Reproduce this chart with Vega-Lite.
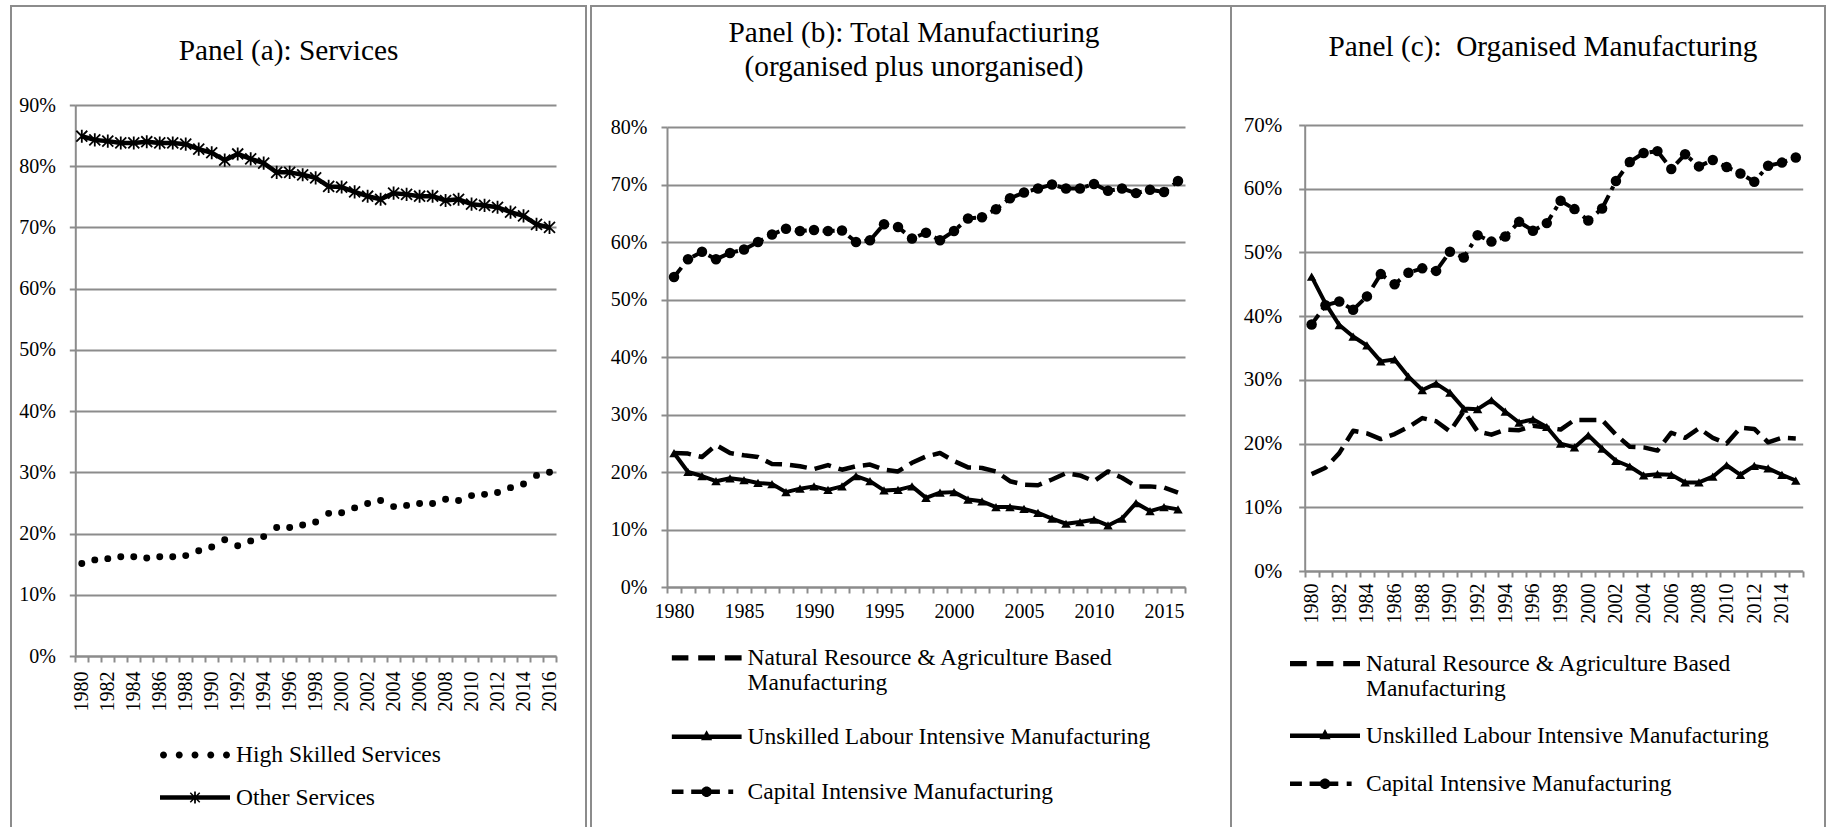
{
  "$schema": "https://vega.github.io/schema/vega-lite/v6.json",
  "padding": {"left": 0, "top": 5, "right": 0, "bottom": 0},
  "background": "white",
  "spacing": 5,
  "bounds": "flush",
  "resolve": {"scale": {"shape": "independent"}, "legend": {"shape": "independent"}},
  "config": {
    "view": {"stroke": "#8c8c8c", "strokeWidth": 2, "fill": "white"},
    "font": "Liberation Serif",
    "axis": {"labelFont": "Liberation Serif", "labelColor": "black", "labelFontSize": 20, "domainColor": "#8c8c8c", "tickColor": "#8c8c8c", "gridColor": "#8c8c8c", "domainWidth": 2, "tickWidth": 2, "gridWidth": 2, "tickSize": 6},
    "legend": {"labelFont": "Liberation Serif", "labelFontSize": 23.5, "labelColor": "black", "symbolSize": 4900, "symbolStrokeWidth": 0, "symbolFillColor": "black", "symbolStrokeColor": "black", "symbolOpacity": 1, "labelLimit": 700, "labelOffset": 6, "padding": 0, "clipHeight": 25.4},
    "title": {"font": "Liberation Serif", "fontSize": 29.3, "fontWeight": "normal", "color": "black", "anchor": "middle", "frame": "group", "baseline": "alphabetic", "lineHeight": 34}
  },
  "datasets": {
    "a": [
      {"year": 1980, "series": "Other Services", "value": 84.9}, {"year": 1981, "series": "Other Services", "value": 84.3}, {"year": 1982, "series": "Other Services", "value": 84.1}, {"year": 1983, "series": "Other Services", "value": 83.8}, {"year": 1984, "series": "Other Services", "value": 83.8}, {"year": 1985, "series": "Other Services", "value": 84.0}, {"year": 1986, "series": "Other Services", "value": 83.8}, {"year": 1987, "series": "Other Services", "value": 83.8}, {"year": 1988, "series": "Other Services", "value": 83.6}, {"year": 1989, "series": "Other Services", "value": 82.8}, {"year": 1990, "series": "Other Services", "value": 82.2}, {"year": 1991, "series": "Other Services", "value": 81.0}, {"year": 1992, "series": "Other Services", "value": 82.0}, {"year": 1993, "series": "Other Services", "value": 81.2}, {"year": 1994, "series": "Other Services", "value": 80.5}, {"year": 1995, "series": "Other Services", "value": 79.0}, {"year": 1996, "series": "Other Services", "value": 79.0}, {"year": 1997, "series": "Other Services", "value": 78.6}, {"year": 1998, "series": "Other Services", "value": 78.1}, {"year": 1999, "series": "Other Services", "value": 76.7}, {"year": 2000, "series": "Other Services", "value": 76.6}, {"year": 2001, "series": "Other Services", "value": 75.8}, {"year": 2002, "series": "Other Services", "value": 75.1}, {"year": 2003, "series": "Other Services", "value": 74.6}, {"year": 2004, "series": "Other Services", "value": 75.6}, {"year": 2005, "series": "Other Services", "value": 75.4}, {"year": 2006, "series": "Other Services", "value": 75.1}, {"year": 2007, "series": "Other Services", "value": 75.1}, {"year": 2008, "series": "Other Services", "value": 74.4}, {"year": 2009, "series": "Other Services", "value": 74.6}, {"year": 2010, "series": "Other Services", "value": 73.8}, {"year": 2011, "series": "Other Services", "value": 73.6}, {"year": 2012, "series": "Other Services", "value": 73.3}, {"year": 2013, "series": "Other Services", "value": 72.5}, {"year": 2014, "series": "Other Services", "value": 71.9}, {"year": 2015, "series": "Other Services", "value": 70.5}, {"year": 2016, "series": "Other Services", "value": 70.0},
      {"year": 1980, "series": "High Skilled Services", "value": 15.1}, {"year": 1981, "series": "High Skilled Services", "value": 15.7}, {"year": 1982, "series": "High Skilled Services", "value": 15.9}, {"year": 1983, "series": "High Skilled Services", "value": 16.2}, {"year": 1984, "series": "High Skilled Services", "value": 16.2}, {"year": 1985, "series": "High Skilled Services", "value": 16.0}, {"year": 1986, "series": "High Skilled Services", "value": 16.2}, {"year": 1987, "series": "High Skilled Services", "value": 16.2}, {"year": 1988, "series": "High Skilled Services", "value": 16.4}, {"year": 1989, "series": "High Skilled Services", "value": 17.2}, {"year": 1990, "series": "High Skilled Services", "value": 17.8}, {"year": 1991, "series": "High Skilled Services", "value": 19.0}, {"year": 1992, "series": "High Skilled Services", "value": 18.0}, {"year": 1993, "series": "High Skilled Services", "value": 18.8}, {"year": 1994, "series": "High Skilled Services", "value": 19.5}, {"year": 1995, "series": "High Skilled Services", "value": 21.0}, {"year": 1996, "series": "High Skilled Services", "value": 21.0}, {"year": 1997, "series": "High Skilled Services", "value": 21.4}, {"year": 1998, "series": "High Skilled Services", "value": 21.9}, {"year": 1999, "series": "High Skilled Services", "value": 23.3}, {"year": 2000, "series": "High Skilled Services", "value": 23.4}, {"year": 2001, "series": "High Skilled Services", "value": 24.2}, {"year": 2002, "series": "High Skilled Services", "value": 24.9}, {"year": 2003, "series": "High Skilled Services", "value": 25.4}, {"year": 2004, "series": "High Skilled Services", "value": 24.4}, {"year": 2005, "series": "High Skilled Services", "value": 24.6}, {"year": 2006, "series": "High Skilled Services", "value": 24.9}, {"year": 2007, "series": "High Skilled Services", "value": 24.9}, {"year": 2008, "series": "High Skilled Services", "value": 25.6}, {"year": 2009, "series": "High Skilled Services", "value": 25.4}, {"year": 2010, "series": "High Skilled Services", "value": 26.2}, {"year": 2011, "series": "High Skilled Services", "value": 26.4}, {"year": 2012, "series": "High Skilled Services", "value": 26.7}, {"year": 2013, "series": "High Skilled Services", "value": 27.5}, {"year": 2014, "series": "High Skilled Services", "value": 28.1}, {"year": 2015, "series": "High Skilled Services", "value": 29.5}, {"year": 2016, "series": "High Skilled Services", "value": 30.0}
    ],
    "b": [
      {"year": 1980, "series": "Capital Intensive Manufacturing", "value": 53.9}, {"year": 1981, "series": "Capital Intensive Manufacturing", "value": 57.0}, {"year": 1982, "series": "Capital Intensive Manufacturing", "value": 58.3}, {"year": 1983, "series": "Capital Intensive Manufacturing", "value": 57.0}, {"year": 1984, "series": "Capital Intensive Manufacturing", "value": 58.1}, {"year": 1985, "series": "Capital Intensive Manufacturing", "value": 58.7}, {"year": 1986, "series": "Capital Intensive Manufacturing", "value": 60.0}, {"year": 1987, "series": "Capital Intensive Manufacturing", "value": 61.3}, {"year": 1988, "series": "Capital Intensive Manufacturing", "value": 62.3}, {"year": 1989, "series": "Capital Intensive Manufacturing", "value": 61.9}, {"year": 1990, "series": "Capital Intensive Manufacturing", "value": 62.1}, {"year": 1991, "series": "Capital Intensive Manufacturing", "value": 61.9}, {"year": 1992, "series": "Capital Intensive Manufacturing", "value": 62.0}, {"year": 1993, "series": "Capital Intensive Manufacturing", "value": 60.0}, {"year": 1994, "series": "Capital Intensive Manufacturing", "value": 60.3}, {"year": 1995, "series": "Capital Intensive Manufacturing", "value": 63.1}, {"year": 1996, "series": "Capital Intensive Manufacturing", "value": 62.6}, {"year": 1997, "series": "Capital Intensive Manufacturing", "value": 60.6}, {"year": 1998, "series": "Capital Intensive Manufacturing", "value": 61.6}, {"year": 1999, "series": "Capital Intensive Manufacturing", "value": 60.3}, {"year": 2000, "series": "Capital Intensive Manufacturing", "value": 61.9}, {"year": 2001, "series": "Capital Intensive Manufacturing", "value": 64.1}, {"year": 2002, "series": "Capital Intensive Manufacturing", "value": 64.3}, {"year": 2003, "series": "Capital Intensive Manufacturing", "value": 65.7}, {"year": 2004, "series": "Capital Intensive Manufacturing", "value": 67.6}, {"year": 2005, "series": "Capital Intensive Manufacturing", "value": 68.6}, {"year": 2006, "series": "Capital Intensive Manufacturing", "value": 69.3}, {"year": 2007, "series": "Capital Intensive Manufacturing", "value": 70.0}, {"year": 2008, "series": "Capital Intensive Manufacturing", "value": 69.3}, {"year": 2009, "series": "Capital Intensive Manufacturing", "value": 69.3}, {"year": 2010, "series": "Capital Intensive Manufacturing", "value": 70.1}, {"year": 2011, "series": "Capital Intensive Manufacturing", "value": 68.9}, {"year": 2012, "series": "Capital Intensive Manufacturing", "value": 69.3}, {"year": 2013, "series": "Capital Intensive Manufacturing", "value": 68.5}, {"year": 2014, "series": "Capital Intensive Manufacturing", "value": 69.1}, {"year": 2015, "series": "Capital Intensive Manufacturing", "value": 68.7}, {"year": 2016, "series": "Capital Intensive Manufacturing", "value": 70.6},
      {"year": 1980, "series": "Unskilled Labour Intensive Manufacturing", "value": 23.3}, {"year": 1981, "series": "Unskilled Labour Intensive Manufacturing", "value": 20.0}, {"year": 1982, "series": "Unskilled Labour Intensive Manufacturing", "value": 19.3}, {"year": 1983, "series": "Unskilled Labour Intensive Manufacturing", "value": 18.4}, {"year": 1984, "series": "Unskilled Labour Intensive Manufacturing", "value": 18.9}, {"year": 1985, "series": "Unskilled Labour Intensive Manufacturing", "value": 18.6}, {"year": 1986, "series": "Unskilled Labour Intensive Manufacturing", "value": 18.1}, {"year": 1987, "series": "Unskilled Labour Intensive Manufacturing", "value": 17.9}, {"year": 1988, "series": "Unskilled Labour Intensive Manufacturing", "value": 16.5}, {"year": 1989, "series": "Unskilled Labour Intensive Manufacturing", "value": 17.1}, {"year": 1990, "series": "Unskilled Labour Intensive Manufacturing", "value": 17.5}, {"year": 1991, "series": "Unskilled Labour Intensive Manufacturing", "value": 16.9}, {"year": 1992, "series": "Unskilled Labour Intensive Manufacturing", "value": 17.5}, {"year": 1993, "series": "Unskilled Labour Intensive Manufacturing", "value": 19.3}, {"year": 1994, "series": "Unskilled Labour Intensive Manufacturing", "value": 18.4}, {"year": 1995, "series": "Unskilled Labour Intensive Manufacturing", "value": 16.8}, {"year": 1996, "series": "Unskilled Labour Intensive Manufacturing", "value": 16.9}, {"year": 1997, "series": "Unskilled Labour Intensive Manufacturing", "value": 17.5}, {"year": 1998, "series": "Unskilled Labour Intensive Manufacturing", "value": 15.5}, {"year": 1999, "series": "Unskilled Labour Intensive Manufacturing", "value": 16.4}, {"year": 2000, "series": "Unskilled Labour Intensive Manufacturing", "value": 16.5}, {"year": 2001, "series": "Unskilled Labour Intensive Manufacturing", "value": 15.2}, {"year": 2002, "series": "Unskilled Labour Intensive Manufacturing", "value": 14.9}, {"year": 2003, "series": "Unskilled Labour Intensive Manufacturing", "value": 13.9}, {"year": 2004, "series": "Unskilled Labour Intensive Manufacturing", "value": 13.9}, {"year": 2005, "series": "Unskilled Labour Intensive Manufacturing", "value": 13.6}, {"year": 2006, "series": "Unskilled Labour Intensive Manufacturing", "value": 12.9}, {"year": 2007, "series": "Unskilled Labour Intensive Manufacturing", "value": 11.9}, {"year": 2008, "series": "Unskilled Labour Intensive Manufacturing", "value": 11.0}, {"year": 2009, "series": "Unskilled Labour Intensive Manufacturing", "value": 11.3}, {"year": 2010, "series": "Unskilled Labour Intensive Manufacturing", "value": 11.7}, {"year": 2011, "series": "Unskilled Labour Intensive Manufacturing", "value": 10.7}, {"year": 2012, "series": "Unskilled Labour Intensive Manufacturing", "value": 11.9}, {"year": 2013, "series": "Unskilled Labour Intensive Manufacturing", "value": 14.6}, {"year": 2014, "series": "Unskilled Labour Intensive Manufacturing", "value": 13.2}, {"year": 2015, "series": "Unskilled Labour Intensive Manufacturing", "value": 13.9}, {"year": 2016, "series": "Unskilled Labour Intensive Manufacturing", "value": 13.5},
      {"year": 1980, "series": "Natural Resource & Agriculture Based Manufacturing", "value": 23.3}, {"year": 1981, "series": "Natural Resource & Agriculture Based Manufacturing", "value": 23.2}, {"year": 1982, "series": "Natural Resource & Agriculture Based Manufacturing", "value": 22.6}, {"year": 1983, "series": "Natural Resource & Agriculture Based Manufacturing", "value": 24.7}, {"year": 1984, "series": "Natural Resource & Agriculture Based Manufacturing", "value": 23.3}, {"year": 1985, "series": "Natural Resource & Agriculture Based Manufacturing", "value": 22.9}, {"year": 1986, "series": "Natural Resource & Agriculture Based Manufacturing", "value": 22.6}, {"year": 1987, "series": "Natural Resource & Agriculture Based Manufacturing", "value": 21.4}, {"year": 1988, "series": "Natural Resource & Agriculture Based Manufacturing", "value": 21.3}, {"year": 1989, "series": "Natural Resource & Agriculture Based Manufacturing", "value": 21.0}, {"year": 1990, "series": "Natural Resource & Agriculture Based Manufacturing", "value": 20.5}, {"year": 1991, "series": "Natural Resource & Agriculture Based Manufacturing", "value": 21.2}, {"year": 1992, "series": "Natural Resource & Agriculture Based Manufacturing", "value": 20.4}, {"year": 1993, "series": "Natural Resource & Agriculture Based Manufacturing", "value": 21.0}, {"year": 1994, "series": "Natural Resource & Agriculture Based Manufacturing", "value": 21.3}, {"year": 1995, "series": "Natural Resource & Agriculture Based Manufacturing", "value": 20.4}, {"year": 1996, "series": "Natural Resource & Agriculture Based Manufacturing", "value": 20.1}, {"year": 1997, "series": "Natural Resource & Agriculture Based Manufacturing", "value": 21.6}, {"year": 1998, "series": "Natural Resource & Agriculture Based Manufacturing", "value": 22.7}, {"year": 1999, "series": "Natural Resource & Agriculture Based Manufacturing", "value": 23.3}, {"year": 2000, "series": "Natural Resource & Agriculture Based Manufacturing", "value": 21.9}, {"year": 2001, "series": "Natural Resource & Agriculture Based Manufacturing", "value": 20.8}, {"year": 2002, "series": "Natural Resource & Agriculture Based Manufacturing", "value": 20.7}, {"year": 2003, "series": "Natural Resource & Agriculture Based Manufacturing", "value": 20.1}, {"year": 2004, "series": "Natural Resource & Agriculture Based Manufacturing", "value": 18.4}, {"year": 2005, "series": "Natural Resource & Agriculture Based Manufacturing", "value": 17.8}, {"year": 2006, "series": "Natural Resource & Agriculture Based Manufacturing", "value": 17.7}, {"year": 2007, "series": "Natural Resource & Agriculture Based Manufacturing", "value": 18.7}, {"year": 2008, "series": "Natural Resource & Agriculture Based Manufacturing", "value": 19.8}, {"year": 2009, "series": "Natural Resource & Agriculture Based Manufacturing", "value": 19.4}, {"year": 2010, "series": "Natural Resource & Agriculture Based Manufacturing", "value": 18.4}, {"year": 2011, "series": "Natural Resource & Agriculture Based Manufacturing", "value": 20.1}, {"year": 2012, "series": "Natural Resource & Agriculture Based Manufacturing", "value": 19.0}, {"year": 2013, "series": "Natural Resource & Agriculture Based Manufacturing", "value": 17.5}, {"year": 2014, "series": "Natural Resource & Agriculture Based Manufacturing", "value": 17.5}, {"year": 2015, "series": "Natural Resource & Agriculture Based Manufacturing", "value": 17.3}, {"year": 2016, "series": "Natural Resource & Agriculture Based Manufacturing", "value": 16.4}
    ],
    "c": [
      {"year": 1980, "series": "Capital Intensive Manufacturing", "value": 38.7}, {"year": 1981, "series": "Capital Intensive Manufacturing", "value": 41.7}, {"year": 1982, "series": "Capital Intensive Manufacturing", "value": 42.3}, {"year": 1983, "series": "Capital Intensive Manufacturing", "value": 41.0}, {"year": 1984, "series": "Capital Intensive Manufacturing", "value": 43.1}, {"year": 1985, "series": "Capital Intensive Manufacturing", "value": 46.6}, {"year": 1986, "series": "Capital Intensive Manufacturing", "value": 45.0}, {"year": 1987, "series": "Capital Intensive Manufacturing", "value": 46.8}, {"year": 1988, "series": "Capital Intensive Manufacturing", "value": 47.5}, {"year": 1989, "series": "Capital Intensive Manufacturing", "value": 47.1}, {"year": 1990, "series": "Capital Intensive Manufacturing", "value": 50.1}, {"year": 1991, "series": "Capital Intensive Manufacturing", "value": 49.2}, {"year": 1992, "series": "Capital Intensive Manufacturing", "value": 52.7}, {"year": 1993, "series": "Capital Intensive Manufacturing", "value": 51.7}, {"year": 1994, "series": "Capital Intensive Manufacturing", "value": 52.5}, {"year": 1995, "series": "Capital Intensive Manufacturing", "value": 54.8}, {"year": 1996, "series": "Capital Intensive Manufacturing", "value": 53.4}, {"year": 1997, "series": "Capital Intensive Manufacturing", "value": 54.6}, {"year": 1998, "series": "Capital Intensive Manufacturing", "value": 58.1}, {"year": 1999, "series": "Capital Intensive Manufacturing", "value": 56.8}, {"year": 2000, "series": "Capital Intensive Manufacturing", "value": 55.0}, {"year": 2001, "series": "Capital Intensive Manufacturing", "value": 56.9}, {"year": 2002, "series": "Capital Intensive Manufacturing", "value": 61.2}, {"year": 2003, "series": "Capital Intensive Manufacturing", "value": 64.2}, {"year": 2004, "series": "Capital Intensive Manufacturing", "value": 65.6}, {"year": 2005, "series": "Capital Intensive Manufacturing", "value": 65.9}, {"year": 2006, "series": "Capital Intensive Manufacturing", "value": 63.1}, {"year": 2007, "series": "Capital Intensive Manufacturing", "value": 65.4}, {"year": 2008, "series": "Capital Intensive Manufacturing", "value": 63.5}, {"year": 2009, "series": "Capital Intensive Manufacturing", "value": 64.5}, {"year": 2010, "series": "Capital Intensive Manufacturing", "value": 63.4}, {"year": 2011, "series": "Capital Intensive Manufacturing", "value": 62.4}, {"year": 2012, "series": "Capital Intensive Manufacturing", "value": 61.1}, {"year": 2013, "series": "Capital Intensive Manufacturing", "value": 63.6}, {"year": 2014, "series": "Capital Intensive Manufacturing", "value": 64.1}, {"year": 2015, "series": "Capital Intensive Manufacturing", "value": 64.9},
      {"year": 1980, "series": "Unskilled Labour Intensive Manufacturing", "value": 46.2}, {"year": 1981, "series": "Unskilled Labour Intensive Manufacturing", "value": 42.0}, {"year": 1982, "series": "Unskilled Labour Intensive Manufacturing", "value": 38.6}, {"year": 1983, "series": "Unskilled Labour Intensive Manufacturing", "value": 36.8}, {"year": 1984, "series": "Unskilled Labour Intensive Manufacturing", "value": 35.4}, {"year": 1985, "series": "Unskilled Labour Intensive Manufacturing", "value": 32.9}, {"year": 1986, "series": "Unskilled Labour Intensive Manufacturing", "value": 33.2}, {"year": 1987, "series": "Unskilled Labour Intensive Manufacturing", "value": 30.5}, {"year": 1988, "series": "Unskilled Labour Intensive Manufacturing", "value": 28.4}, {"year": 1989, "series": "Unskilled Labour Intensive Manufacturing", "value": 29.4}, {"year": 1990, "series": "Unskilled Labour Intensive Manufacturing", "value": 28.0}, {"year": 1991, "series": "Unskilled Labour Intensive Manufacturing", "value": 25.5}, {"year": 1992, "series": "Unskilled Labour Intensive Manufacturing", "value": 25.4}, {"year": 1993, "series": "Unskilled Labour Intensive Manufacturing", "value": 26.8}, {"year": 1994, "series": "Unskilled Labour Intensive Manufacturing", "value": 25.0}, {"year": 1995, "series": "Unskilled Labour Intensive Manufacturing", "value": 23.3}, {"year": 1996, "series": "Unskilled Labour Intensive Manufacturing", "value": 23.8}, {"year": 1997, "series": "Unskilled Labour Intensive Manufacturing", "value": 22.6}, {"year": 1998, "series": "Unskilled Labour Intensive Manufacturing", "value": 20.0}, {"year": 1999, "series": "Unskilled Labour Intensive Manufacturing", "value": 19.4}, {"year": 2000, "series": "Unskilled Labour Intensive Manufacturing", "value": 21.3}, {"year": 2001, "series": "Unskilled Labour Intensive Manufacturing", "value": 19.2}, {"year": 2002, "series": "Unskilled Labour Intensive Manufacturing", "value": 17.3}, {"year": 2003, "series": "Unskilled Labour Intensive Manufacturing", "value": 16.4}, {"year": 2004, "series": "Unskilled Labour Intensive Manufacturing", "value": 15.0}, {"year": 2005, "series": "Unskilled Labour Intensive Manufacturing", "value": 15.2}, {"year": 2006, "series": "Unskilled Labour Intensive Manufacturing", "value": 15.1}, {"year": 2007, "series": "Unskilled Labour Intensive Manufacturing", "value": 13.9}, {"year": 2008, "series": "Unskilled Labour Intensive Manufacturing", "value": 13.9}, {"year": 2009, "series": "Unskilled Labour Intensive Manufacturing", "value": 14.8}, {"year": 2010, "series": "Unskilled Labour Intensive Manufacturing", "value": 16.6}, {"year": 2011, "series": "Unskilled Labour Intensive Manufacturing", "value": 15.1}, {"year": 2012, "series": "Unskilled Labour Intensive Manufacturing", "value": 16.5}, {"year": 2013, "series": "Unskilled Labour Intensive Manufacturing", "value": 16.1}, {"year": 2014, "series": "Unskilled Labour Intensive Manufacturing", "value": 15.1}, {"year": 2015, "series": "Unskilled Labour Intensive Manufacturing", "value": 14.2},
      {"year": 1980, "series": "Natural Resource & Agriculture Based Manufacturing", "value": 15.2}, {"year": 1981, "series": "Natural Resource & Agriculture Based Manufacturing", "value": 16.2}, {"year": 1982, "series": "Natural Resource & Agriculture Based Manufacturing", "value": 18.5}, {"year": 1983, "series": "Natural Resource & Agriculture Based Manufacturing", "value": 22.0}, {"year": 1984, "series": "Natural Resource & Agriculture Based Manufacturing", "value": 21.6}, {"year": 1985, "series": "Natural Resource & Agriculture Based Manufacturing", "value": 20.7}, {"year": 1986, "series": "Natural Resource & Agriculture Based Manufacturing", "value": 21.5}, {"year": 1987, "series": "Natural Resource & Agriculture Based Manufacturing", "value": 22.6}, {"year": 1988, "series": "Natural Resource & Agriculture Based Manufacturing", "value": 24.0}, {"year": 1989, "series": "Natural Resource & Agriculture Based Manufacturing", "value": 23.5}, {"year": 1990, "series": "Natural Resource & Agriculture Based Manufacturing", "value": 21.9}, {"year": 1991, "series": "Natural Resource & Agriculture Based Manufacturing", "value": 25.1}, {"year": 1992, "series": "Natural Resource & Agriculture Based Manufacturing", "value": 21.9}, {"year": 1993, "series": "Natural Resource & Agriculture Based Manufacturing", "value": 21.4}, {"year": 1994, "series": "Natural Resource & Agriculture Based Manufacturing", "value": 22.2}, {"year": 1995, "series": "Natural Resource & Agriculture Based Manufacturing", "value": 22.1}, {"year": 1996, "series": "Natural Resource & Agriculture Based Manufacturing", "value": 22.8}, {"year": 1997, "series": "Natural Resource & Agriculture Based Manufacturing", "value": 22.5}, {"year": 1998, "series": "Natural Resource & Agriculture Based Manufacturing", "value": 22.2}, {"year": 1999, "series": "Natural Resource & Agriculture Based Manufacturing", "value": 23.7}, {"year": 2000, "series": "Natural Resource & Agriculture Based Manufacturing", "value": 23.7}, {"year": 2001, "series": "Natural Resource & Agriculture Based Manufacturing", "value": 23.7}, {"year": 2002, "series": "Natural Resource & Agriculture Based Manufacturing", "value": 21.4}, {"year": 2003, "series": "Natural Resource & Agriculture Based Manufacturing", "value": 19.5}, {"year": 2004, "series": "Natural Resource & Agriculture Based Manufacturing", "value": 19.4}, {"year": 2005, "series": "Natural Resource & Agriculture Based Manufacturing", "value": 18.9}, {"year": 2006, "series": "Natural Resource & Agriculture Based Manufacturing", "value": 21.7}, {"year": 2007, "series": "Natural Resource & Agriculture Based Manufacturing", "value": 20.9}, {"year": 2008, "series": "Natural Resource & Agriculture Based Manufacturing", "value": 22.4}, {"year": 2009, "series": "Natural Resource & Agriculture Based Manufacturing", "value": 20.9}, {"year": 2010, "series": "Natural Resource & Agriculture Based Manufacturing", "value": 20.0}, {"year": 2011, "series": "Natural Resource & Agriculture Based Manufacturing", "value": 22.5}, {"year": 2012, "series": "Natural Resource & Agriculture Based Manufacturing", "value": 22.3}, {"year": 2013, "series": "Natural Resource & Agriculture Based Manufacturing", "value": 20.2}, {"year": 2014, "series": "Natural Resource & Agriculture Based Manufacturing", "value": 20.9}, {"year": 2015, "series": "Natural Resource & Agriculture Based Manufacturing", "value": 20.8}
    ]
  },
  "hconcat": [
    {
      "width": 575,
      "height": 824,
      "data": {"name": "a"},
      "title": {"text": "Panel (a): Services", "offset": -60, "dx": -10},
      "encoding": {
        "x": {"field": "year", "type": "ordinal", "scale": {"type": "band", "range": [64.3, 545], "paddingInner": 0, "paddingOuter": 0},
          "axis": {"title": null, "orient": "bottom", "offset": -174, "tickBand": "extent", "labelAngle": 270, "labelExpr": "datum.value % 2 == 0 ? datum.label : ''", "labelOverlap": false, "labelPadding": 9}},
        "y": {"field": "value", "type": "quantitative", "scale": {"domain": [0, 90], "range": [650, 99], "nice": false, "zero": false},
          "axis": {"title": null, "offset": -64.3, "values": [0, 10, 20, 30, 40, 50, 60, 70, 80, 90], "labelExpr": "datum.value + '%'", "grid": true, "labelPadding": 14}}
      },
      "layer": [
        {"transform": [{"filter": "datum.series == 'Other Services'"}], "mark": {"type": "line", "color": "black", "strokeWidth": 4.5, "strokeJoin": "round"}},
        {"transform": [{"filter": "datum.series == 'Other Services'"}], "mark": {"type": "point", "shape": "M-1,-1L1,1M-1,1L1,-1M0,-1.2L0,1.2", "filled": false, "color": "black", "strokeWidth": 1.8, "size": 120, "opacity": 1}},
        {"transform": [{"filter": "datum.series == 'High Skilled Services'"}], "mark": {"type": "circle", "color": "black", "size": 48, "opacity": 1}},
        {"mark": {"type": "point", "filled": true, "color": "black", "opacity": 0},
          "encoding": {"shape": {"field": "series", "type": "nominal",
            "scale": {"domain": ["High Skilled Services", "Other Services"],
              "range": [
                "M-1,0 A0.1,0.1,0,1,1,-0.8,0 A0.1,0.1,0,1,1,-1,0 Z M-0.55,0 A0.1,0.1,0,1,1,-0.35,0 A0.1,0.1,0,1,1,-0.55,0 Z M-0.1,0 A0.1,0.1,0,1,1,0.1,0 A0.1,0.1,0,1,1,-0.1,0 Z M0.35,0 A0.1,0.1,0,1,1,0.55,0 A0.1,0.1,0,1,1,0.35,0 Z M0.8,0 A0.1,0.1,0,1,1,1,0 A0.1,0.1,0,1,1,0.8,0 Z",
                "M-1,-0.065 L1,-0.065 L1,0.065 L-1,0.065 Z M-0.025,-0.17 L0.025,-0.17 L0.025,0.17 L-0.025,0.17 Z M-0.15,-0.12 L-0.12,-0.15 L0.15,0.12 L0.12,0.15 Z M-0.15,0.12 L0.12,-0.15 L0.15,-0.12 L-0.12,0.15 Z"
              ]},
            "legend": {"orient": "none", "legendX": 149, "legendY": 736.3, "title": null, "rowPadding": 16.5}}}}
      ]
    },
    {
      "spacing": 0,
      "bounds": "flush",
      "resolve": {"scale": {"shape": "independent"}, "legend": {"shape": "independent"}},
      "hconcat": [
        {
          "width": 640,
          "height": 824,
          "data": {"name": "b"},
          "title": {"text": ["Panel (b): Total Manufactiuring", "(organised plus unorganised)"], "offset": -76, "dx": 3},
          "encoding": {
            "x": {"field": "year", "type": "ordinal", "scale": {"type": "band", "range": [76, 594], "paddingInner": 0, "paddingOuter": 0},
              "axis": {"title": null, "orient": "bottom", "offset": -243, "tickBand": "extent", "labelAngle": 0, "labelExpr": "datum.value % 5 == 0 ? datum.label : ''", "labelOverlap": false, "labelPadding": 8}},
            "y": {"field": "value", "type": "quantitative", "scale": {"domain": [0, 80], "range": [581, 121], "nice": false, "zero": false},
              "axis": {"title": null, "offset": -76, "values": [0, 10, 20, 30, 40, 50, 60, 70, 80], "labelExpr": "datum.value + '%'", "grid": true, "labelPadding": 14}}
          },
          "layer": [
            {"transform": [{"filter": "datum.series == 'Natural Resource & Agriculture Based Manufacturing'"}], "mark": {"type": "line", "color": "black", "strokeWidth": 4.5, "strokeDash": [17, 8], "strokeJoin": "round"}},
            {"transform": [{"filter": "datum.series == 'Unskilled Labour Intensive Manufacturing'"}], "mark": {"type": "line", "color": "black", "strokeWidth": 4, "strokeJoin": "round"}},
            {"transform": [{"filter": "datum.series == 'Unskilled Labour Intensive Manufacturing'"}], "mark": {"type": "point", "shape": "triangle-up", "filled": true, "color": "black", "size": 90, "opacity": 1}},
            {"transform": [{"filter": "datum.series == 'Capital Intensive Manufacturing'"}], "mark": {"type": "line", "color": "black", "strokeWidth": 4, "strokeDash": [12, 6, 4, 6], "strokeJoin": "round"}},
            {"transform": [{"filter": "datum.series == 'Capital Intensive Manufacturing'"}], "mark": {"type": "circle", "color": "black", "size": 110, "opacity": 1}},
            {"mark": {"type": "point", "filled": true, "color": "black", "opacity": 0},
              "encoding": {"shape": {"field": "series", "type": "nominal",
                "scale": {"domain": ["Natural Resource & Agriculture Based Manufacturing", "Unskilled Labour Intensive Manufacturing", "Capital Intensive Manufacturing"],
                  "range": [
                    "M-1,-0.075 L-0.52,-0.075 L-0.52,0.075 L-1,0.075 Z M-0.24,-0.075 L0.24,-0.075 L0.24,0.075 L-0.24,0.075 Z M0.52,-0.075 L1,-0.075 L1,0.075 L0.52,0.075 Z",
                    "M-1,-0.065 L1,-0.065 L1,0.065 L-1,0.065 Z M0,-0.19 L0.16,0.1 L-0.16,0.1 Z",
                    "M-1,-0.065 L-0.66,-0.065 L-0.66,0.065 L-1,0.065 Z M-0.44,-0.065 L0.38,-0.065 L0.38,0.065 L-0.44,0.065 Z M-0.15,0 A0.15,0.15,0,1,1,0.15,0 A0.15,0.15,0,1,1,-0.15,0 Z M0.62,-0.065 L0.76,-0.065 L0.76,0.065 L0.62,0.065 Z"
                  ]},
                "legend": {"orient": "none", "legendX": 80.6, "legendY": 639.1, "title": null, "rowPadding": 29,
                  "labelExpr": "datum.label == 'Natural Resource & Agriculture Based Manufacturing' ? ['Natural Resource & Agriculture Based', 'Manufacturing'] : datum.label"}}}}
          ]
        },
        {
          "width": 594,
          "height": 824,
          "data": {"name": "c"},
          "title": {"text": "Panel (c):\u00a0 Organised Manufacturing", "offset": -56, "dx": 15},
          "encoding": {
            "x": {"field": "year", "type": "ordinal", "scale": {"type": "band", "range": [73.7, 571.7], "paddingInner": 0, "paddingOuter": 0},
              "axis": {"title": null, "orient": "bottom", "offset": -259, "tickBand": "extent", "labelAngle": 270, "labelExpr": "datum.value % 2 == 0 ? datum.label : ''", "labelOverlap": false, "labelPadding": 6}},
            "y": {"field": "value", "type": "quantitative", "scale": {"domain": [0, 70], "range": [565, 119], "nice": false, "zero": false},
              "axis": {"title": null, "offset": -73.7, "values": [0, 10, 20, 30, 40, 50, 60, 70], "labelExpr": "datum.value + '%'", "grid": true, "labelPadding": 17, "labelFontSize": 21}}
          },
          "layer": [
            {"transform": [{"filter": "datum.series == 'Natural Resource & Agriculture Based Manufacturing'"}], "mark": {"type": "line", "color": "black", "strokeWidth": 4.5, "strokeDash": [17, 8], "strokeJoin": "round"}},
            {"transform": [{"filter": "datum.series == 'Unskilled Labour Intensive Manufacturing'"}], "mark": {"type": "line", "color": "black", "strokeWidth": 4, "strokeJoin": "round"}},
            {"transform": [{"filter": "datum.series == 'Unskilled Labour Intensive Manufacturing'"}], "mark": {"type": "point", "shape": "triangle-up", "filled": true, "color": "black", "size": 90, "opacity": 1}},
            {"transform": [{"filter": "datum.series == 'Capital Intensive Manufacturing'"}], "mark": {"type": "line", "color": "black", "strokeWidth": 4, "strokeDash": [12, 6, 4, 6], "strokeJoin": "round"}},
            {"transform": [{"filter": "datum.series == 'Capital Intensive Manufacturing'"}], "mark": {"type": "circle", "color": "black", "size": 110, "opacity": 1}},
            {"mark": {"type": "point", "filled": true, "color": "black", "opacity": 0},
              "encoding": {"shape": {"field": "series", "type": "nominal",
                "scale": {"domain": ["Natural Resource & Agriculture Based Manufacturing", "Unskilled Labour Intensive Manufacturing", "Capital Intensive Manufacturing"],
                  "range": [
                    "M-1,-0.075 L-0.52,-0.075 L-0.52,0.075 L-1,0.075 Z M-0.24,-0.075 L0.24,-0.075 L0.24,0.075 L-0.24,0.075 Z M0.52,-0.075 L1,-0.075 L1,0.075 L0.52,0.075 Z",
                    "M-1,-0.065 L1,-0.065 L1,0.065 L-1,0.065 Z M0,-0.19 L0.16,0.1 L-0.16,0.1 Z",
                    "M-1,-0.065 L-0.66,-0.065 L-0.66,0.065 L-1,0.065 Z M-0.44,-0.065 L0.38,-0.065 L0.38,0.065 L-0.44,0.065 Z M-0.15,0 A0.15,0.15,0,1,1,0.15,0 A0.15,0.15,0,1,1,-0.15,0 Z M0.62,-0.065 L0.76,-0.065 L0.76,0.065 L0.62,0.065 Z"
                  ]},
                "legend": {"orient": "none", "legendX": 59, "legendY": 645, "title": null, "rowPadding": 22,
                  "labelExpr": "datum.label == 'Natural Resource & Agriculture Based Manufacturing' ? ['Natural Resource & Agriculture Based', 'Manufacturing'] : datum.label"}}}}
          ]
        }
      ]
    }
  ]
}
